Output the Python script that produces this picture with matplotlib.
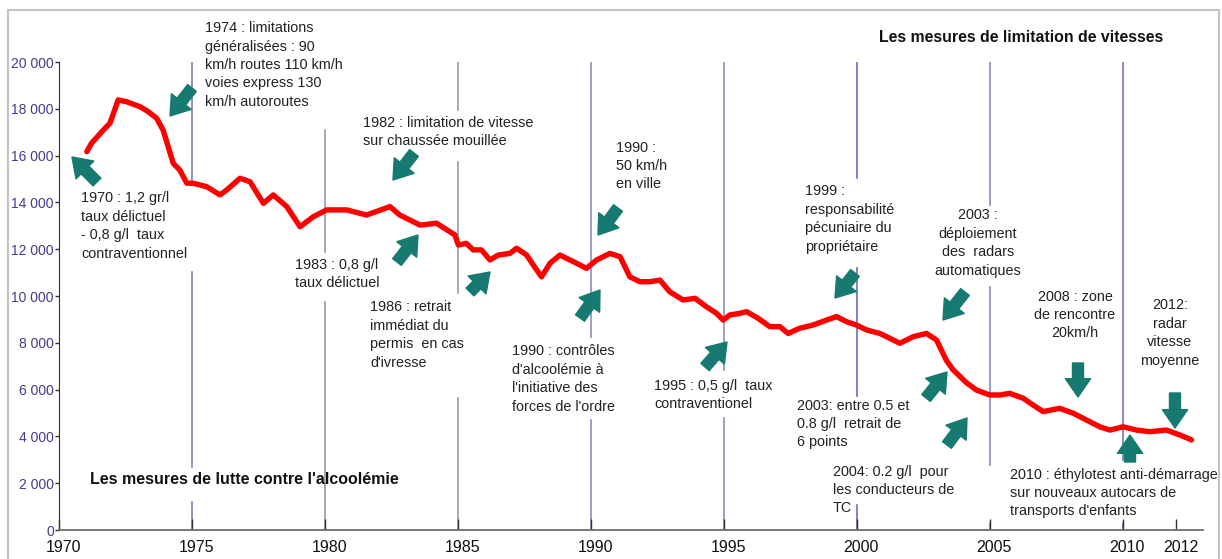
import matplotlib
matplotlib.use('Agg')
import matplotlib.pyplot as plt
from matplotlib.patches import Rectangle
from matplotlib.transforms import ScaledTranslation

plt.rcParams['font.family'] = ['Liberation Sans', 'DejaVu Sans']

# rolling annual road deaths
years = [1971.03, 1971.21, 1971.65, 1971.9, 1972.21, 1972.53, 1973.03, 1973.34, 1973.66, 1973.9,
         1974.28, 1974.53, 1974.79, 1975.03, 1975.54, 1976.04, 1976.29, 1976.79, 1977.17, 1977.67,
         1978.04, 1978.55, 1979.05, 1979.55, 1980.05, 1980.8, 1981.55, 1982.43, 1982.8, 1983.56,
         1984.18, 1984.87, 1985.0, 1985.3, 1985.56, 1985.87, 1986.19, 1986.5, 1986.94, 1987.19,
         1987.57, 1987.82, 1988.13, 1988.45, 1988.82, 1989.32, 1989.82, 1990.2, 1990.7, 1991.08,
         1991.45, 1991.83, 1992.2, 1992.58, 1992.95, 1993.45, 1993.9, 1994.33, 1994.71, 1994.96,
         1995.21, 1995.59, 1995.84, 1996.27, 1996.71, 1997.09, 1997.4, 1997.83, 1998.34, 1998.84,
         1999.22, 1999.6, 1999.97, 2000.35, 2000.85, 2001.23, 2001.6, 2002.1, 2002.6, 2002.98,
         2003.35, 2003.6, 2004.1, 2004.48, 2004.98, 2005.37, 2005.73, 2006.24, 2006.61, 2006.99,
         2007.61, 2008.12, 2008.62, 2009.12, 2009.5, 2010.0, 2010.5, 2011.0, 2011.63, 2012.13,
         2012.57]
deaths = [16170, 16530, 17090, 17380, 18380, 18300, 18090, 17880, 17590, 17090,
          15670, 15380, 14820, 14820, 14670, 14320, 14530, 15030, 14880, 13960,
          14320, 13820, 12960, 13390, 13680, 13680, 13460, 13820, 13460, 13030,
          13110, 12610, 12180, 12250, 11970, 11970, 11540, 11750, 11820, 12040,
          11750, 11320, 10820, 11400, 11750, 11470, 11180, 11540, 11820, 11680,
          10820, 10610, 10610, 10680, 10180, 9830, 9900, 9540, 9260, 8970,
          9190, 9260, 9330, 9050, 8690, 8690, 8400, 8620, 8760, 8970,
          9120, 8900, 8760, 8550, 8400, 8190, 7980, 8260, 8400, 8120,
          7250, 6850, 6300, 5980, 5770, 5770, 5840, 5630, 5340, 5060,
          5200, 4990, 4700, 4410, 4270, 4410, 4270, 4200, 4270, 4060,
          3850]

x_ticks = [1970, 1975, 1980, 1985, 1990, 1995, 2000, 2005, 2010, 2012]
y_ticks = list(range(0, 20001, 2000))

# year lines, drawn in pieces so the notes sit in the gaps
vline_segments = {
    1975: [(14800, 20000), (2690, 11030), (0, 1200)],
    1980: [(11880, 17090), (0, 9740)],
    1985: [(17950, 20000), (10130, 15730), (0, 5640)],
    1990: [(8250, 20000), (0, 4700)],
    1995: [(6840, 20000), (0, 4790)],
    2000: [(15040, 20000), (5730, 11200), (0, 1070)],
    2005: [(13890, 20000), (2780, 10380), (0, 300)],
    2010: [(2990, 20000), (0, 300)],
}
vline_colors = {1975: '#8080b8', 1980: '#9898ac', 1985: '#9a9aa6', 1990: '#8c8cbc',
                1995: '#9090b0', 2000: '#6c6cc0', 2005: '#8a8ac4', 2010: '#7474c4'}

notes = [
    ("1970 : 1,2 gr/l\ntaux délictuel\n- 0,8 g/l  taux\ncontraventionnel", 81, 226, 'left'),
    ("1974 : limitations\ngénéralisées : 90\nkm/h routes 110 km/h\nvoies express 130\nkm/h autoroutes", 205, 65, 'left'),
    ("1982 : limitation de vitesse\nsur chaussée mouillée", 363, 132, 'left'),
    ("1983 : 0,8 g/l\ntaux délictuel", 295, 274, 'left'),
    ("1986 : retrait\nimmédiat du\npermis  en cas\nd'ivresse", 370, 335, 'left'),
    ("1990 :\n50 km/h\nen ville", 616, 166, 'left'),
    ("1990 : contrôles\nd'alcoolémie à\nl'initiative des\nforces de l'ordre", 512, 379, 'left'),
    ("1995 : 0,5 g/l  taux\ncontraventionel", 654, 395, 'left'),
    ("1999 :\nresponsabilité\npécuniaire du\npropriétaire", 805, 219, 'left'),
    ("2003 :\ndéploiement\ndes  radars\nautomatiques", 978, 243, 'center'),
    ("2003: entre 0.5 et\n0.8 g/l  retrait de\n6 points", 797, 424, 'left'),
    ("2004: 0.2 g/l  pour\nles conducteurs de\nTC", 833, 490, 'left'),
    ("2008 : zone\nde rencontre\n20km/h", 1075, 315, 'center'),
    ("2012:\nradar\nvitesse\nmoyenne", 1170, 333, 'center'),
    ("2010 : éthylotest anti-démarrage\nsur nouveaux autocars de\ntransports d'enfants", 1010, 493, 'left'),
]

# arrows: tail -> head, in picture pixels
arrows = [((97, 182), (72, 157)), ((192, 88), (170, 116)), ((414, 153), (393, 180)),
          ((397, 262), (418, 235)), ((470, 292), (490, 272)), ((618, 208), (598, 235)),
          ((580, 318), (600, 290)), ((705, 367), (727, 342)), ((855, 273), (835, 298)),
          ((965, 292), (943, 320)), ((926, 398), (947, 372)), ((947, 445), (967, 418)),
          ((1078, 363), (1078, 397)), ((1175, 393), (1175, 428)), ((1130, 462), (1130, 435))]

W, H = 1222, 559
fig = plt.figure(figsize=(W / 100, H / 100), dpi=100)
ax = fig.add_axes([59.4 / W, (H - 530) / H, (1203 - 59.4) / W, (530 - 62) / H])

for yr, segs in vline_segments.items():
    for lo, hi in segs:
        ax.plot([yr, yr], [lo, hi], color=vline_colors[yr], lw=1.2, zorder=1)

ax.plot(years, deaths, color='#ff0000', lw=3.9, solid_capstyle='round', zorder=3)

ax.set_xlim(1970, 2013)
ax.set_ylim(0, 20000)
ax.spines['top'].set_visible(False)
ax.spines['right'].set_visible(False)
ax.spines['bottom'].set_color('#707070')
ax.spines['bottom'].set_linewidth(1.3)
ax.spines['left'].set_color('#303030')
ax.set_xticks(x_ticks)
ax.set_xticklabels([str(t) for t in x_ticks])
ax.set_yticks(y_ticks)
ax.set_yticklabels([f"{t:,}".replace(',', ' ') for t in y_ticks])
ax.tick_params(axis='x', direction='in', length=8, width=1, color='#303030', pad=7,
               labelsize=11.5, labelcolor='#111111')
ax.tick_params(axis='y', direction='out', length=3, width=1, color='#303030', pad=1,
               labelsize=10, labelcolor='#463c8c')
# year labels sit a little right of their ticks in the original
shift = ScaledTranslation(4 / 100, 0, fig.dpi_scale_trans)
for lab in ax.get_xticklabels():
    lab.set_transform(lab.get_transform() + shift)
ax.patch.set_alpha(0)

def px(x, y):
    return (x, H - y)

for txt, x, y, ha in notes:
    ax.annotate(txt, xy=px(x, y), xycoords='figure pixels', ha=ha, va='center',
                multialignment=ha, fontsize=10.4, linespacing=1.4, color='#222222',
                annotation_clip=False, zorder=4)

for tail, head in arrows:
    ax.annotate('', xy=px(*head), xycoords='figure pixels', xytext=px(*tail),
                textcoords='figure pixels', annotation_clip=False, zorder=5,
                arrowprops=dict(arrowstyle='simple,head_length=1.2,head_width=1.65,tail_width=0.72',
                                mutation_scale=11, color='#167a70', shrinkA=0, shrinkB=0))

fig.text(1021 / W, (H - 38) / H, "Les mesures de limitation de vitesses", ha='center',
         va='center', fontsize=11.4, fontweight='bold', color='#111111')
fig.text(90 / W, (H - 479) / H, "Les mesures de lutte contre l'alcoolémie", ha='left',
         va='center', fontsize=11.5, fontweight='bold', color='#111111')

fig.patches.append(Rectangle((8 / W, -0.05), (1219 - 8) / W, (H - 10) / H + 0.05,
                             transform=fig.transFigure, fill=False, edgecolor='#c4c4c4', lw=1.5))

fig.savefig('out.png', dpi=100)
